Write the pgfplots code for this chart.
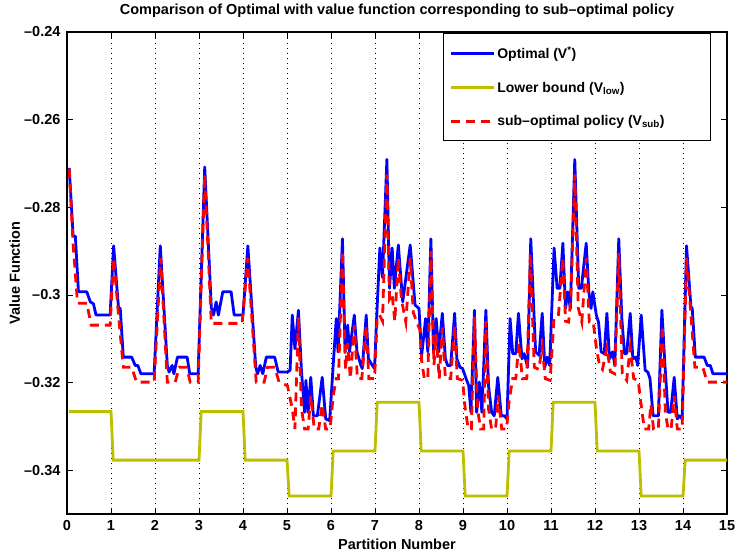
\documentclass[border=0pt]{standalone}
\usepackage{fontspec}
\setmainfont{Liberation Sans}
\usepackage{pgfplots}
\pgfplotsset{compat=1.18}
\definecolor{lbyellow}{RGB}{191,191,0}
\newcommand{\legtext}[1]{\makebox[205pt][l]{#1}}
\begin{document}
\begin{tikzpicture}
\begin{axis}[
  scale only axis, width=660pt, height=482pt,
  xmin=0, xmax=15, ymin=-0.35, ymax=-0.24,
  xtick={0,1,...,15},
  ytick={-0.34,-0.32,-0.30,-0.28,-0.26,-0.24},
  yticklabels={--0.34,--0.32,--0.3,--0.28,--0.26,--0.24},
  /pgf/number format/assume math mode=true,
  ticklabel style={font=\bfseries\fontsize{14.5}{16}\selectfont},
  xticklabel style={yshift=-3pt},
  yticklabel style={xshift=-3pt},
  tick align=inside, major tick length=6pt,
  tick style={black, line width=0.8pt},
  axis line style={black, line width=1.2pt},
  xmajorgrids=true,
  major grid style={black, line width=0.6pt, dash pattern=on 0.8pt off 4.2pt},
  title={Comparison of Optimal with value function corresponding to sub--optimal policy},
  title style={font=\bfseries\fontsize{14.5}{16}\selectfont, at={(axis description cs:0.5,1)}, anchor=south, inner sep=0pt, yshift=8pt},
  xlabel={Partition Number},
  xlabel style={font=\bfseries\fontsize{14.5}{16}\selectfont, at={(axis description cs:0.5,0)}, anchor=north, inner sep=0pt, yshift=-25pt},
  ylabel={Value Function},
  ylabel style={font=\bfseries\fontsize{14.5}{16}\selectfont, at={(axis description cs:-0.071,0.5)}, rotate=0, anchor=south, inner sep=0pt},
  legend style={at={(axis description cs:0.9755,0.998)}, anchor=north east, draw=black, line width=1pt,
    font=\bfseries\fontsize{14}{16}\selectfont, inner xsep=6pt, inner ysep=11pt, row sep=18pt},
  legend cell align=left,
  legend image code/.code={\draw[#1] (0pt,0pt) -- (43pt,0pt);},
]
\coordinate (bl) at (rel axis cs:0,0);
\coordinate (tr) at (rel axis cs:1,1);
\addplot[blue, line width=2.8pt, line join=round] table {
0.05 -0.2710
0.14 -0.2866
0.19 -0.2866
0.26 -0.2993
0.45 -0.2993
0.53 -0.3016
0.60 -0.3020
0.66 -0.3046
0.98 -0.3046
1.06 -0.2888
1.17 -0.3029
1.21 -0.3031
1.28 -0.3142
1.47 -0.3142
1.55 -0.3161
1.61 -0.3161
1.68 -0.3180
1.98 -0.3180
2.12 -0.2888
2.28 -0.3161
2.32 -0.3176
2.39 -0.3161
2.43 -0.3180
2.51 -0.3142
2.73 -0.3142
2.79 -0.3180
2.98 -0.3180
3.13 -0.2708
3.28 -0.3029
3.33 -0.3046
3.39 -0.3016
3.44 -0.3046
3.54 -0.2993
3.73 -0.2993
3.80 -0.3046
4.00 -0.3046
4.11 -0.2888
4.29 -0.3165
4.33 -0.3180
4.39 -0.3161
4.45 -0.3180
4.53 -0.3142
4.72 -0.3142
4.80 -0.3176
5.01 -0.3176
5.07 -0.3172
5.12 -0.3046
5.18 -0.3123
5.26 -0.3035
5.33 -0.3176
5.40 -0.3268
5.43 -0.3195
5.48 -0.3268
5.54 -0.3188
5.60 -0.3276
5.69 -0.3276
5.80 -0.3188
5.88 -0.3283
5.97 -0.3287
6.05 -0.3160
6.12 -0.3054
6.16 -0.3130
6.26 -0.2872
6.32 -0.3130
6.38 -0.3069
6.42 -0.3130
6.53 -0.3046
6.59 -0.3130
6.68 -0.3161
6.71 -0.3168
6.80 -0.3046
6.85 -0.3146
6.94 -0.3161
6.99 -0.3168
7.03 -0.3069
7.11 -0.2893
7.17 -0.2960
7.27 -0.2691
7.33 -0.2985
7.39 -0.2893
7.44 -0.2985
7.53 -0.2886
7.63 -0.3016
7.80 -0.2886
7.91 -0.3023
8.00 -0.3031
8.06 -0.3138
8.15 -0.3054
8.20 -0.3130
8.27 -0.2872
8.33 -0.3130
8.39 -0.3054
8.45 -0.3130
8.53 -0.3042
8.60 -0.3146
8.65 -0.3161
8.72 -0.3161
8.81 -0.3042
8.86 -0.3146
8.93 -0.3165
8.99 -0.3168
9.07 -0.3191
9.13 -0.3207
9.18 -0.3268
9.26 -0.3035
9.31 -0.3268
9.37 -0.3199
9.43 -0.3268
9.52 -0.3035
9.58 -0.3207
9.65 -0.3268
9.71 -0.3276
9.79 -0.3188
9.87 -0.3276
9.94 -0.3276
10.00 -0.3283
10.07 -0.3054
10.13 -0.3134
10.20 -0.3134
10.26 -0.3042
10.34 -0.3146
10.39 -0.3134
10.47 -0.3165
10.54 -0.2872
10.65 -0.3130
10.73 -0.3138
10.80 -0.3042
10.86 -0.3165
10.91 -0.3142
10.97 -0.3161
11.07 -0.2893
11.14 -0.2985
11.20 -0.2985
11.27 -0.2882
11.33 -0.3031
11.38 -0.2993
11.44 -0.3031
11.54 -0.2691
11.63 -0.2985
11.69 -0.2985
11.80 -0.2882
11.86 -0.2993
11.91 -0.3031
11.95 -0.2993
12.03 -0.3046
12.08 -0.3062
12.14 -0.3130
12.21 -0.3134
12.27 -0.3042
12.33 -0.3146
12.40 -0.3130
12.45 -0.3161
12.54 -0.2872
12.61 -0.3054
12.67 -0.3134
12.72 -0.3134
12.80 -0.3042
12.86 -0.3146
12.93 -0.3142
12.97 -0.3161
13.05 -0.3046
13.14 -0.3172
13.20 -0.3176
13.25 -0.3191
13.32 -0.3276
13.44 -0.3276
13.52 -0.3035
13.59 -0.3161
13.66 -0.3268
13.72 -0.3268
13.80 -0.3188
13.87 -0.3283
13.92 -0.3276
13.98 -0.3283
14.08 -0.2888
14.18 -0.3027
14.21 -0.3031
14.28 -0.3142
14.48 -0.3142
14.55 -0.3161
14.62 -0.3161
14.68 -0.3180
15.00 -0.3180
};
\addlegendentry{\legtext{Optimal (V\textsuperscript{*})}}
\addplot[lbyellow, line width=2.8pt] table {
0.05 -0.3266
1.00 -0.3266
1.05 -0.3377
3.00 -0.3377
3.05 -0.3266
4.00 -0.3266
4.05 -0.3377
5.00 -0.3377
5.05 -0.3459
6.00 -0.3459
6.05 -0.3356
7.00 -0.3356
7.05 -0.3245
8.00 -0.3245
8.05 -0.3356
9.00 -0.3356
9.05 -0.3459
10.00 -0.3459
10.05 -0.3356
11.00 -0.3356
11.05 -0.3245
12.00 -0.3245
12.05 -0.3356
13.00 -0.3356
13.05 -0.3459
14.00 -0.3459
14.05 -0.3377
15.00 -0.3377
};
\addlegendentry{\legtext{Lower bound (V\textsubscript{low})}}
\addplot[red, line width=2.8pt, dash pattern=on 9pt off 6pt] table {
0.05 -0.2712
0.14 -0.2886
0.24 -0.3019
0.45 -0.3019
0.55 -0.3069
0.98 -0.3069
1.06 -0.2916
1.17 -0.3045
1.28 -0.3165
1.47 -0.3165
1.58 -0.3199
1.98 -0.3199
2.13 -0.2916
2.28 -0.3199
2.46 -0.3199
2.55 -0.3165
2.72 -0.3165
2.80 -0.3199
2.98 -0.3199
3.13 -0.2725
3.28 -0.3065
3.98 -0.3065
4.11 -0.2916
4.30 -0.3199
4.48 -0.3199
4.56 -0.3165
4.72 -0.3165
4.82 -0.3199
5.01 -0.3207
5.12 -0.3260
5.18 -0.3306
5.26 -0.3050
5.33 -0.3260
5.40 -0.3306
5.48 -0.3306
5.54 -0.3230
5.62 -0.3306
5.72 -0.3306
5.80 -0.3250
5.88 -0.3306
5.98 -0.3306
6.05 -0.3230
6.12 -0.3191
6.17 -0.3191
6.26 -0.2900
6.33 -0.3170
6.38 -0.3110
6.44 -0.3191
6.53 -0.3070
6.60 -0.3191
6.70 -0.3191
6.80 -0.3070
6.86 -0.3191
6.99 -0.3191
7.05 -0.3050
7.10 -0.3045
7.17 -0.3060
7.27 -0.2725
7.33 -0.3010
7.39 -0.3000
7.45 -0.3060
7.53 -0.2915
7.60 -0.3010
7.70 -0.3062
7.80 -0.2916
7.87 -0.3040
7.95 -0.3062
8.02 -0.3080
8.06 -0.3150
8.12 -0.3191
8.20 -0.3191
8.27 -0.2900
8.34 -0.3160
8.39 -0.3090
8.46 -0.3191
8.53 -0.3075
8.60 -0.3191
8.72 -0.3191
8.81 -0.3070
8.87 -0.3191
8.99 -0.3195
9.05 -0.3260
9.12 -0.3306
9.19 -0.3306
9.26 -0.3050
9.33 -0.3260
9.40 -0.3306
9.47 -0.3306
9.52 -0.3060
9.58 -0.3260
9.65 -0.3306
9.74 -0.3306
9.80 -0.3230
9.88 -0.3306
9.99 -0.3306
10.05 -0.3240
10.13 -0.3191
10.20 -0.3191
10.27 -0.3110
10.35 -0.3191
10.45 -0.3191
10.53 -0.2905
10.62 -0.3165
10.72 -0.3170
10.80 -0.3120
10.87 -0.3191
10.98 -0.3195
11.07 -0.3050
11.17 -0.3045
11.27 -0.2916
11.33 -0.3060
11.40 -0.3062
11.45 -0.3010
11.54 -0.2725
11.62 -0.3030
11.70 -0.3062
11.80 -0.2916
11.87 -0.3062
11.96 -0.3062
12.03 -0.3120
12.10 -0.3160
12.17 -0.3170
12.27 -0.3120
12.35 -0.3175
12.45 -0.3180
12.54 -0.2905
12.62 -0.3180
12.72 -0.3195
12.80 -0.3120
12.88 -0.3191
12.98 -0.3195
13.06 -0.3260
13.12 -0.3306
13.22 -0.3306
13.27 -0.3250
13.33 -0.3306
13.44 -0.3306
13.53 -0.3070
13.60 -0.3270
13.66 -0.3306
13.73 -0.3306
13.80 -0.3230
13.87 -0.3306
13.98 -0.3306
14.08 -0.2916
14.18 -0.3045
14.27 -0.3165
14.45 -0.3165
14.55 -0.3199
15.00 -0.3199
};
\addlegendentry{\legtext{sub--optimal policy (V\textsubscript{sub})}}
\end{axis}
\pgfresetboundingbox
\path[use as bounding box] ([xshift=-67pt,yshift=-40pt]bl) rectangle ([xshift=8pt,yshift=32pt]tr);
\end{tikzpicture}
\end{document}
